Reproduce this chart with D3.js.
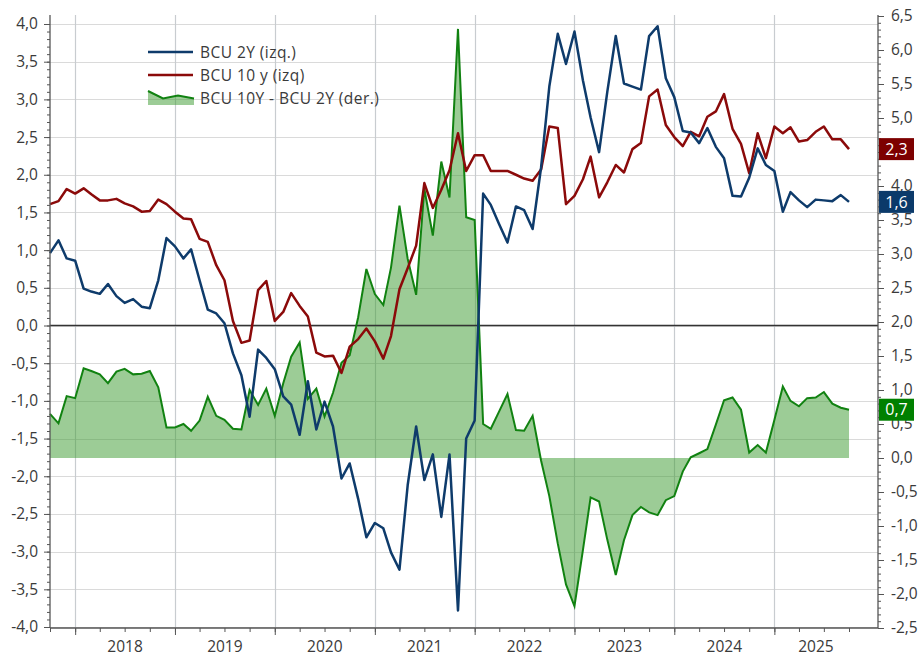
<!DOCTYPE html>
<html>
<head>
<meta charset="utf-8">
<script src="https://cdn.jsdelivr.net/npm/d3@7"></script>
<style>
  html, body { margin: 0; padding: 0; background: #fff; }
  #chart { width: 920px; height: 656px; }
  text { font-family: "Open Sans", "Noto Sans", sans-serif; fill: #3a3a3a; }
</style>
</head>
<body>
<div id="chart"></div>
<script>
// datos mensuales, desde oct-2017 hasta oct-2025
const startMonth = [2017, 9]
const bcu2y = [
  0.96, 1.13, 0.89, 0.86, 0.49, 0.45, 0.42, 0.55, 0.39, 0.30,
  0.35, 0.25, 0.23, 0.60, 1.16, 1.05, 0.89, 1.01, 0.60, 0.21,
  0.16, 0.03, -0.37, -0.66, -1.21, -0.32, -0.43, -0.58, -0.94, -1.05,
  -1.45, -0.74, -1.38, -1.01, -1.34, -2.03, -1.83, -2.30, -2.81, -2.62,
  -2.69, -3.01, -3.24, -2.12, -1.34, -2.05, -1.71, -2.54, -1.71, -3.78,
  -1.50, -1.26, 1.75, 1.60, 1.34, 1.10, 1.58, 1.53, 1.28, 2.10,
  3.17, 3.87, 3.47, 3.90, 3.25, 2.76, 2.30, 3.10, 3.84, 3.21,
  3.17, 3.13, 3.84, 3.97, 3.28, 3.03, 2.58, 2.56, 2.42, 2.62,
  2.37, 2.22, 1.72, 1.71, 1.96, 2.35, 2.13, 2.05, 1.51, 1.77,
  1.66, 1.57, 1.67, 1.66, 1.65, 1.73, 1.64
]
const bcu10y = [
  1.61, 1.65, 1.81, 1.75, 1.82, 1.74, 1.66, 1.66, 1.68, 1.62,
  1.58, 1.51, 1.52, 1.67, 1.61, 1.51, 1.42, 1.41, 1.15, 1.11,
  0.80, 0.60, 0.06, -0.23, -0.20, 0.47, 0.59, 0.06, 0.18, 0.43,
  0.26, 0.12, -0.36, -0.41, -0.40, -0.63, -0.28, -0.18, -0.04, -0.21,
  -0.44, -0.14, 0.48, 0.76, 1.06, 1.89, 1.56, 1.80, 2.06, 2.55,
  2.05, 2.26, 2.26, 2.05, 2.05, 2.05, 2.00, 1.95, 1.92, 2.07,
  2.64, 2.62, 1.61, 1.72, 1.94, 2.24, 1.70, 1.90, 2.13, 2.03,
  2.34, 2.42, 3.04, 3.13, 2.66, 2.50, 2.38, 2.57, 2.51, 2.77,
  2.84, 3.07, 2.61, 2.41, 2.02, 2.55, 2.22, 2.64, 2.55, 2.63,
  2.44, 2.46, 2.57, 2.64, 2.47, 2.47, 2.34
]
const spread = [
  0.65, 0.51, 0.91, 0.88, 1.32, 1.28, 1.23, 1.10, 1.27, 1.31,
  1.23, 1.24, 1.28, 1.04, 0.45, 0.45, 0.50, 0.40, 0.55, 0.90,
  0.62, 0.56, 0.43, 0.42, 1.00, 0.78, 1.02, 0.62, 1.10, 1.49,
  1.70, 0.87, 1.02, 0.61, 0.96, 1.40, 1.51, 2.07, 2.78, 2.41,
  2.25, 2.80, 3.71, 2.93, 2.40, 3.96, 3.27, 4.36, 3.83, 6.31,
  3.54, 3.50, 0.50, 0.43, 0.69, 0.94, 0.41, 0.40, 0.62, -0.04,
  -0.56, -1.26, -1.86, -2.18, -1.35, -0.58, -0.64, -1.20, -1.72, -1.21,
  -0.84, -0.72, -0.80, -0.84, -0.62, -0.56, -0.20, 0.01, 0.07, 0.13,
  0.49, 0.85, 0.89, 0.71, 0.08, 0.19, 0.08, 0.56, 1.05, 0.84,
  0.76, 0.88, 0.89, 0.97, 0.80, 0.74, 0.71
]
const yearLabels = ['2018', '2019', '2020', '2021', '2022', '2023', '2024', '2025']
const seriesNames = ['BCU 2Y (izq.)', 'BCU 10 y (izq)', 'BCU 10Y - BCU 2Y (der.)']

const width = 920
const height = 656
const plotLeft = 50, plotRight = 878, plotTop = 15, plotBottom = 628
const blue = '#0e3b6b', red = '#8b0a0a', green = '#118211'

const dates = bcu2y.map((d, i) => new Date(startMonth[0], startMonth[1] + i, 1))
const lastDate = dates[dates.length - 1]

const fmt = d3.formatLocale({ decimal: ',', thousands: '.', grouping: [3], currency: ['', ''], minus: '-' }).format('.1f')

const x = d3.scaleTime()
  .domain([dates[0], new Date(2026, 0, 15)])
  .range([plotLeft, plotRight])
const yL = d3.scaleLinear().domain([-4, 4]).range([627, 24])
const yR = d3.scaleLinear().domain([-2.5, 6.5]).range([628, 16])

const svg = d3.select('#chart').append('svg')
  .attr('width', width)
  .attr('height', height)

// rejilla
const yearStarts = yearLabels.map(y => new Date(+y, 0, 1))
svg.append('g').selectAll('line')
  .data(d3.range(-4, 4.01, 0.5))
  .enter().append('line')
  .attr('x1', plotLeft).attr('x2', plotRight)
  .attr('y1', d => Math.round(yL(d)) + 0.5).attr('y2', d => Math.round(yL(d)) + 0.5)
  .style('stroke', '#dadada').style('stroke-width', 1.2)
svg.append('g').selectAll('line')
  .data(yearStarts)
  .enter().append('line')
  .attr('x1', d => Math.round(x(d)) + 0.5).attr('x2', d => Math.round(x(d)) + 0.5)
  .attr('y1', plotTop).attr('y2', plotBottom)
  .style('stroke', '#c8ccd0').style('stroke-width', 1.2)

// area del spread (eje derecho)
const area = d3.area()
  .x((d, i) => x(dates[i]))
  .y0(yR(0))
  .y1(d => yR(d))
svg.append('path')
  .datum(spread)
  .attr('d', area)
  .style('fill', '#3a9a2e')
  .style('fill-opacity', 0.5)

// linea del cero (eje izq.)
svg.append('line')
  .attr('x1', plotLeft).attr('x2', plotRight)
  .attr('y1', yL(0)).attr('y2', yL(0))
  .style('stroke', '#333').style('stroke-width', 1.3)

const lineL = d3.line().x((d, i) => x(dates[i])).y(d => yL(d))
const lineR = d3.line().x((d, i) => x(dates[i])).y(d => yR(d))
svg.append('path').datum(spread).attr('d', lineR)
  .style('fill', 'none').style('stroke', green).style('stroke-width', 2)
svg.append('path').datum(bcu10y).attr('d', lineL)
  .style('fill', 'none').style('stroke', red).style('stroke-width', 2.5).style('stroke-linejoin', 'round')
svg.append('path').datum(bcu2y).attr('d', lineL)
  .style('fill', 'none').style('stroke', blue).style('stroke-width', 2.5).style('stroke-linejoin', 'round')

// ejes
const axisColor = '#555'
function styleAxis (g) {
  g.select('.domain').remove()
  g.selectAll('line').style('stroke', axisColor)
  g.selectAll('text').style('font-size', '15.5px').style('fill', '#3a3a3a')
}
svg.append('g').attr('transform', 'translate(' + plotLeft + ',0)')
  .call(d3.axisLeft(yL).tickValues(d3.range(-4, 4.01, 0.1)).tickSize(3).tickFormat(''))
  .call(styleAxis)
svg.append('g').attr('transform', 'translate(' + plotLeft + ',0)')
  .call(d3.axisLeft(yL).tickValues(d3.range(-4, 4.01, 0.5)).tickSize(6).tickPadding(6).tickFormat(fmt))
  .call(styleAxis)
svg.append('g').attr('transform', 'translate(' + plotRight + ',0)')
  .call(d3.axisRight(yR).tickValues(d3.range(-2.5, 6.51, 0.1)).tickSize(3).tickFormat(''))
  .call(styleAxis)
svg.append('g').attr('transform', 'translate(' + plotRight + ',0)')
  .call(d3.axisRight(yR).tickValues(d3.range(-2.5, 6.51, 0.5)).tickSize(6).tickPadding(7).tickFormat(fmt))
  .call(styleAxis)
svg.append('g').attr('transform', 'translate(0,' + plotBottom + ')')
  .call(d3.axisBottom(x).tickValues(d3.timeMonth.every(3).range(dates[0], new Date(2026, 0, 1))).tickSize(4).tickFormat(''))
  .call(styleAxis)
svg.append('g').attr('transform', 'translate(0,' + plotBottom + ')')
  .call(d3.axisBottom(x).tickValues(yearStarts).tickSize(7).tickFormat(''))
  .call(styleAxis)
svg.append('line').attr('x1', plotLeft).attr('x2', plotLeft).attr('y1', plotTop).attr('y2', plotBottom)
  .style('stroke', axisColor).style('stroke-width', 1.3)
svg.append('line').attr('x1', plotRight).attr('x2', plotRight).attr('y1', plotTop).attr('y2', plotBottom)
  .style('stroke', axisColor).style('stroke-width', 1.3)
svg.append('line').attr('x1', plotLeft).attr('x2', plotRight).attr('y1', plotBottom).attr('y2', plotBottom)
  .style('stroke', axisColor).style('stroke-width', 1.3)

// etiquetas de años, centradas en el tramo con datos
const periodEnd = d3.timeMonth.offset(lastDate, 1)
svg.append('g').selectAll('text')
  .data(yearStarts)
  .enter().append('text')
  .attr('x', d => {
    let end = d3.min([d3.timeYear.offset(d, 1), periodEnd])
    return (x(d) + x(end)) / 2
  })
  .attr('y', 652)
  .attr('text-anchor', 'middle')
  .style('font-size', '15.5px')
  .text((d, i) => yearLabels[i])

// leyenda
const legend = svg.append('g')
legend.append('line').attr('x1', 148).attr('x2', 193).attr('y1', 52).attr('y2', 52)
  .style('stroke', blue).style('stroke-width', 2.5)
legend.append('line').attr('x1', 148).attr('x2', 193).attr('y1', 75).attr('y2', 75)
  .style('stroke', red).style('stroke-width', 2.5)
legend.append('path').attr('d', 'M148,91L163,98.5L178,95.5L194,98.5L194,105L148,105Z')
  .style('fill', '#3a9a2e').style('fill-opacity', 0.5)
legend.append('path').attr('d', 'M148,91L163,98.5L178,95.5L194,98.5')
  .style('fill', 'none').style('stroke', green).style('stroke-width', 2)
legend.selectAll('text')
  .data(seriesNames)
  .enter().append('text')
  .attr('x', 200)
  .attr('y', (d, i) => 53 + i * 23)
  .attr('dy', '0.35em')
  .style('font-size', '15.5px')
  .style('letter-spacing', '0.45px')
  .text(d => d)

// etiquetas del último valor
const lastLabels = [
  { v: bcu10y[bcu10y.length - 1], y: yL(bcu10y[bcu10y.length - 1]), c: '#7d0000' },
  { v: bcu2y[bcu2y.length - 1], y: yL(bcu2y[bcu2y.length - 1]), c: '#0b3a6a' },
  { v: spread[spread.length - 1], y: yR(spread[spread.length - 1]), c: '#008000' }
]
const lab = svg.append('g').selectAll('g')
  .data(lastLabels)
  .enter().append('g')
  .attr('transform', d => 'translate(879,' + d.y + ')')
lab.append('rect')
  .attr('x', 0).attr('y', -11).attr('width', 35).attr('height', 22)
  .style('fill', d => d.c)
lab.append('text')
  .attr('x', 17.5).attr('dy', '0.36em')
  .attr('text-anchor', 'middle')
  .style('font-size', '16px')
  .style('fill', '#fff')
  .text(d => fmt(d.v))
</script>
</body>
</html>
